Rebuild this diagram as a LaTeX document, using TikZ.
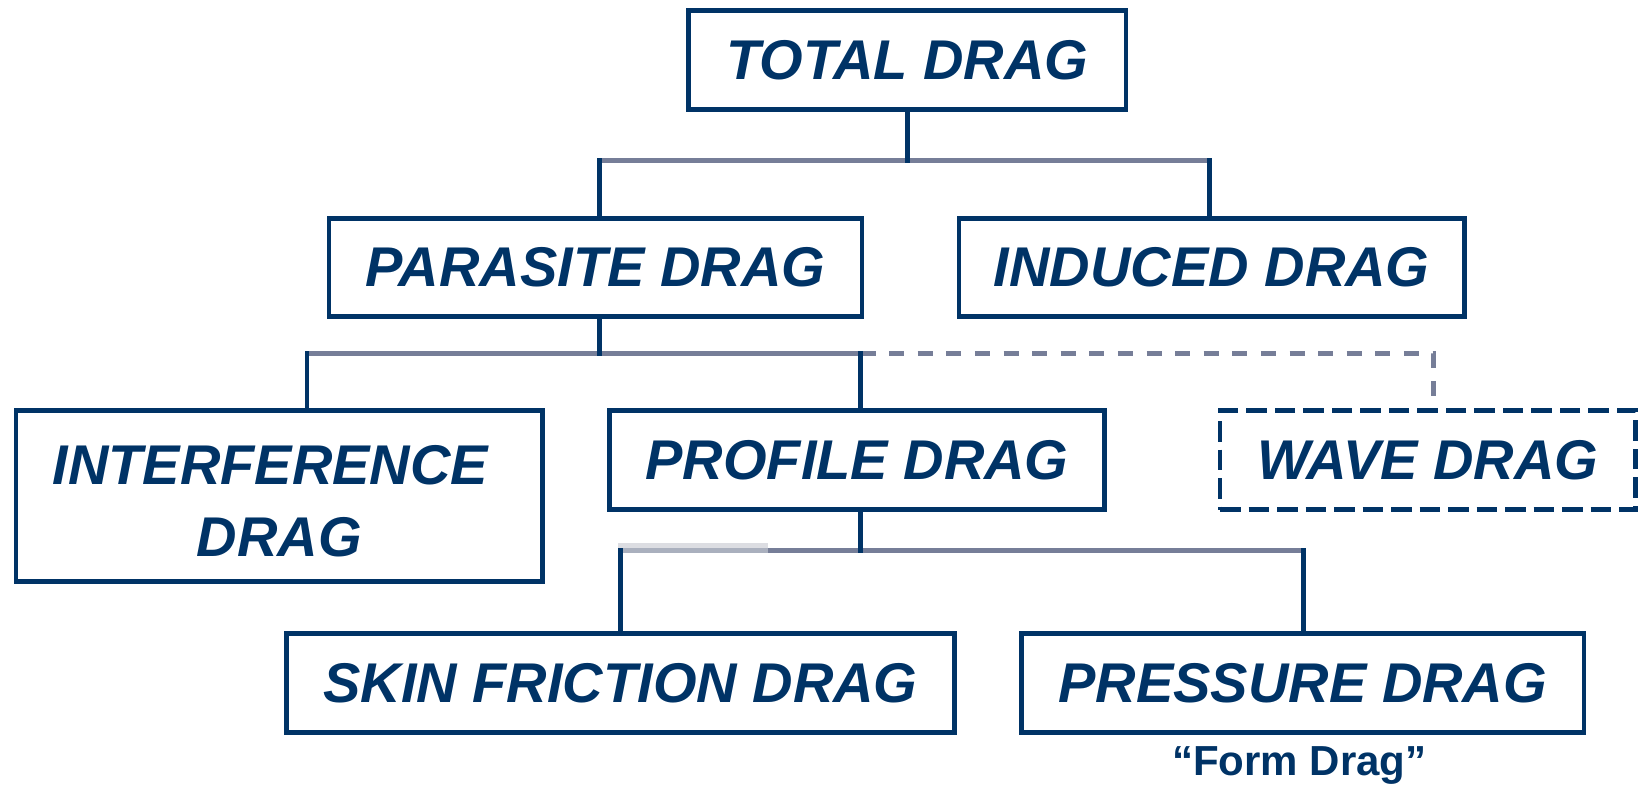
\documentclass[tikz,border=0pt]{standalone}
\usepackage{fontspec}
\setmainfont{Liberation Sans}
\definecolor{navy}{RGB}{0,51,102}
\definecolor{bus}{RGB}{118,126,152}
\definecolor{buslight}{RGB}{170,176,190}
\definecolor{busfaint}{RGB}{220,221,226}
\tikzset{
  box/.style={draw=navy, line width=4.7pt, inner sep=0pt, outer sep=0pt, text=navy,
    font=\fontsize{56}{72}\selectfont\bfseries\itshape, align=center},
  wavebox/.style={box, dash pattern=on 20.5pt off 8pt},
  hbus/.style={draw=bus, line width=4.7pt},
  vbus/.style={draw=navy, line width=4.5pt, line cap=rect},
  dbus/.style={draw=bus, line width=4.7pt, dash pattern=on 15pt off 13.6pt},
  note/.style={text=navy, font=\fontsize{42}{50}\selectfont\bfseries, inner sep=0pt, anchor=base}
}
\begin{document}
\begin{tikzpicture}[x=1pt,y=-1pt]
\useasboundingbox (0,0) rectangle (1638,786);
% boxes
\node[box, minimum width=437.3pt, minimum height=99pt] (total) at (907.3,60) {TOTAL DRAG};
\node[box, minimum width=533pt, minimum height=98pt] (parasite) at (595.5,267.5) {PARASITE DRAG};
\node[box, minimum width=505.5pt, minimum height=98pt] (induced) at (1211.75,267.5) {INDUCED DRAG};
\node[box, minimum width=526.5pt, minimum height=171pt] (interf) at (279.25,496) {\rule{0pt}{50pt}INTERFERENCE\hspace*{18pt}\\DRAG};
\node[box, minimum width=495pt, minimum height=99pt] (profile) at (857,460) {PROFILE DRAG};
\node[wavebox, minimum width=415.5pt, minimum height=99pt] (wave) at (1427.75,460) {WAVE DRAG};
\node[box, minimum width=668pt, minimum height=99pt] (skin) at (620.5,683) {SKIN FRICTION DRAG};
\node[box, minimum width=562.5pt, minimum height=98.5pt] (pressure) at (1302.75,683) {PRESSURE DRAG};
\node[note] (form) at (1299.5,775.5) {“Form Drag”};
% bus 1
\coordinate (b1l) at (599.5,160.5);
\coordinate (b1m) at (907.3,160.5);
\coordinate (b1r) at (1209.5,160.5);
\draw[hbus] (b1l) -- (b1r);
\draw[vbus] (total.south) -- (b1m);
\draw[vbus] (b1l) -- (b1l |- parasite.north);
\draw[vbus] (b1r) -- (b1r |- induced.north);
% bus 2
\coordinate (b2a) at (307,353.5);
\coordinate (b2p) at (599.5,353.5);
\coordinate (b2m) at (860.5,353.5);
\coordinate (b2w) at (1433.5,353.5);
\coordinate (b2e) at (1433.5,402);
\draw[hbus] (b2a) -- (b2m);
\draw[dbus] (b2m) -- (b2w) -- (b2e);
\draw[vbus] (parasite.south -| b2p) -- (b2p);
\draw[vbus] (b2a) -- (b2a |- interf.north);
\draw[vbus] (b2m) -- (b2m |- profile.north);
% bus 3
\coordinate (b3l) at (620.5,550.5);
\coordinate (b3k) at (768,550.5);
\coordinate (b3m) at (860.5,550.5);
\coordinate (b3r) at (1303.5,550.5);
\draw[hbus, draw=busfaint] ([shift={(-2.5,-4.8)}]b3l) -- ([shift={(0,-4.8)}]b3k);
\draw[hbus, draw=buslight] ([xshift=-2.5pt]b3l) -- (b3k);
\draw[hbus] (b3k) -- (b3r);
\draw[vbus] (profile.south -| b3m) -- (b3m);
\draw[vbus] (b3l) -- (b3l |- skin.north);
\draw[vbus] (b3r) -- (b3r |- pressure.north);
\end{tikzpicture}
\end{document}
